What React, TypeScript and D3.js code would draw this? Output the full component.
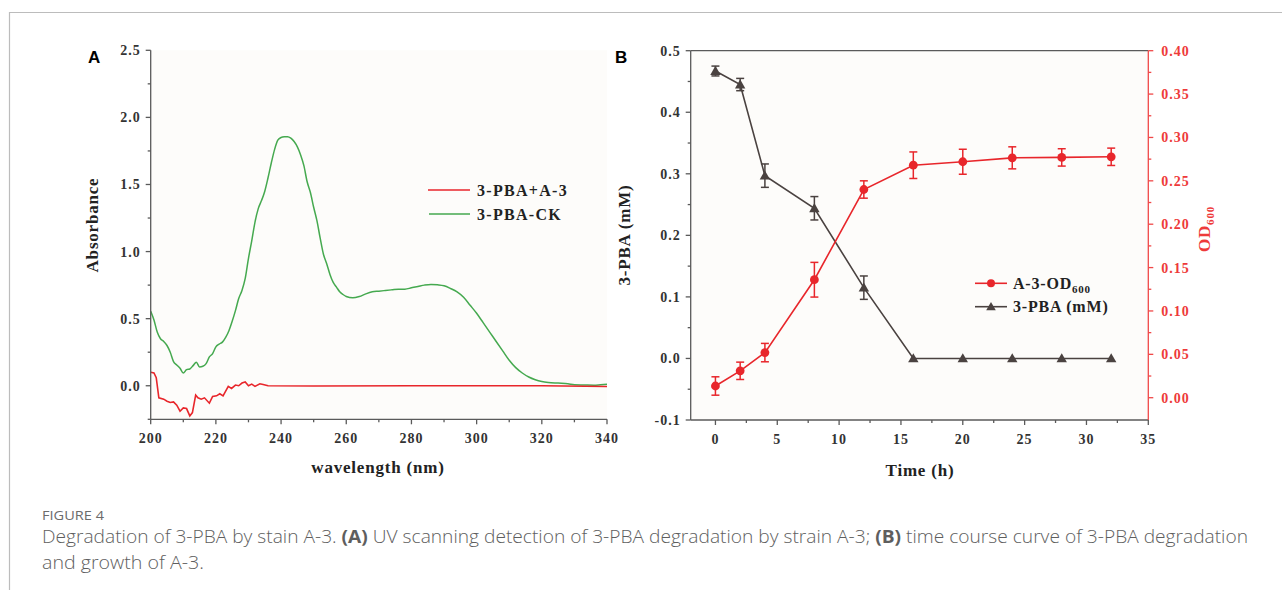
import React from 'react'
import * as d3 from 'd3'

// panel A: UV scan
const wlCK = [200, 201, 202, 203, 204, 205, 206, 207, 208, 209, 210, 211, 212, 213, 214, 215, 216, 217, 218, 219, 220, 221, 222, 223, 224, 225, 226, 227, 228, 229, 230, 231, 232, 233, 234, 235, 236, 237, 238, 239, 240, 241, 242, 243, 244, 245, 246, 247, 248, 249, 250, 251, 252, 253, 254, 255, 256, 257, 258, 259, 260, 262, 264, 266, 268, 270, 272, 274, 276, 278, 280, 282, 284, 286, 288, 290, 292, 294, 296, 298, 300, 302, 304, 306, 308, 310, 312, 314, 316, 318, 320, 322, 325, 328, 330, 333, 336, 338, 340]
const absCK = [0.555, 0.49, 0.4, 0.35, 0.33, 0.3, 0.25, 0.18, 0.155, 0.13, 0.095, 0.12, 0.125, 0.15, 0.175, 0.14, 0.145, 0.165, 0.215, 0.24, 0.29, 0.31, 0.325, 0.36, 0.41, 0.48, 0.56, 0.65, 0.71, 0.8, 0.95, 1.08, 1.22, 1.32, 1.38, 1.45, 1.55, 1.66, 1.76, 1.83, 1.85, 1.855, 1.856, 1.845, 1.82, 1.78, 1.72, 1.64, 1.52, 1.44, 1.33, 1.23, 1.1, 0.98, 0.91, 0.83, 0.77, 0.735, 0.7, 0.68, 0.665, 0.655, 0.665, 0.685, 0.7, 0.705, 0.71, 0.715, 0.72, 0.72, 0.73, 0.74, 0.75, 0.755, 0.752, 0.745, 0.725, 0.7, 0.66, 0.6, 0.54, 0.47, 0.4, 0.33, 0.26, 0.19, 0.135, 0.095, 0.065, 0.045, 0.032, 0.025, 0.02, 0.015, 0.008, 0.006, 0.004, 0.008, 0.012]

const wlA3 = [200, 201, 201.7, 202.5, 204, 205, 206, 207, 208, 209, 210, 211, 212, 212.8, 213.8, 214.5, 215.5, 216.5, 218, 219, 220.2, 221.2, 222.2, 223.8, 224.8, 226, 227, 228, 229, 230, 231, 232, 233.5, 234.5, 236, 250, 280, 300, 320, 340]
const absA3 = [0.1, 0.095, 0.06, -0.09, -0.1, -0.115, -0.125, -0.12, -0.145, -0.19, -0.165, -0.17, -0.225, -0.2, -0.07, -0.09, -0.1, -0.09, -0.13, -0.08, -0.075, -0.06, -0.075, -0.005, -0.02, 0.005, 0, 0.02, 0.028, 0, 0.012, -0.005, 0.015, 0.01, 0, -0.002, 0, 0, 0, -0.005]

const absTicks = [0, 0.5, 1.0, 1.5, 2.0, 2.5]
const wlTicks = [200, 220, 240, 260, 280, 300, 320, 340]

// panel B: time course
const timeH = [0, 2, 4, 8, 12, 16, 20, 24, 28, 32]
const pbaMean = [0.467, 0.445, 0.297, 0.244, 0.115, 0, 0, 0, 0, 0]
const pbaErr = [0.008, 0.01, 0.019, 0.019, 0.019, 0, 0, 0, 0, 0]
const odMean = [0.0135, 0.031, 0.052, 0.136, 0.24, 0.268, 0.272, 0.2765, 0.277, 0.2777]
const odErr = [0.0106, 0.01, 0.0106, 0.02, 0.01, 0.0153, 0.0144, 0.0127, 0.01, 0.01]

const pbaTicks = [-0.1, 0, 0.1, 0.2, 0.3, 0.4, 0.5]
const odTicks = [0, 0.05, 0.1, 0.15, 0.2, 0.25, 0.3, 0.35, 0.4]
const timeTicks = [0, 5, 10, 15, 20, 25, 30, 35]

const RED = '#e8262b'
const GREEN = '#45a94f'
const DARK = '#4a4240'
const AXIS = '#5a5a5a'
const TICKTXT = '#333'
const PLOTBG = '#fdfcfa'
const serif = '"Liberation Serif", "Times New Roman", serif'
const sans = '"Open Sans", sans-serif'

export default function App() {
  // panel A scales
  const ax = d3.scaleLinear().domain([200, 340]).range([150.7, 607])
  const ay = d3.scaleLinear().domain([-0.25, 2.5]).range([419.3, 50.3])

  const lineCK = d3
    .line<number>()
    .x((d, i) => ax(wlCK[i]))
    .y(d => ay(d))
    .curve(d3.curveMonotoneX)
  const lineA3 = d3
    .line<number>()
    .x((d, i) => ax(wlA3[i]))
    .y(d => ay(d))

  // panel B scales
  const bx = d3.scaleLinear().domain([-2, 35]).range([690.7, 1148.3])
  const by = d3.scaleLinear().domain([-0.1, 0.5]).range([420, 50.7])
  const by2 = d3.scaleLinear().domain([-0.0257, 0.4]).range([420, 50.7])

  const linePBA = d3
    .line<number>()
    .x((d, i) => bx(timeH[i]))
    .y(d => by(d))
  const lineOD = d3
    .line<number>()
    .x((d, i) => bx(timeH[i]))
    .y(d => by2(d))

  const tri = (cx: number, cy: number, s = 5.2) =>
    `M${cx},${cy - s}L${cx + s},${cy + s * 0.75}L${cx - s},${cy + s * 0.75}Z`

  const [aL, aR] = ax.range()
  const [aB, aT] = ay.range()
  const [bL, bR] = bx.range()
  const [bB, bT] = by.range()

  return (
    <svg width={1282} height={590} style={{ position: 'absolute', left: 0, top: 0 }}>
      <rect width={1282} height={590} fill="#fff" />
      {/* frame */}
      <line x1={9} x2={1282} y1={12.5} y2={12.5} stroke="#bcbcbc" strokeWidth={1.2} />
      <line x1={9.5} x2={9.5} y1={12} y2={590} stroke="#bcbcbc" strokeWidth={1.2} />

      {/* ---------- panel A ---------- */}
      <rect x={aL} y={aT} width={aR - aL} height={aB - aT} fill={PLOTBG} />
      <text x={88} y={63} fontFamily='"Liberation Sans", Arial, sans-serif' fontWeight="bold" fontSize={17}>A</text>

      <path d={lineCK(absCK) || ''} fill="none" stroke={GREEN} strokeWidth={1.5} />
      <path d={lineA3(absA3) || ''} fill="none" stroke={RED} strokeWidth={1.6} />

      <g stroke={AXIS} strokeWidth={1.3}>
        <line x1={aL} x2={aL} y1={aT} y2={aB} />
        <line x1={aL} x2={aR} y1={aB} y2={aB} />
        {d3.range(-0.25, 2.51, 0.25).map((v, i) => (
          <line key={'ay' + i} x1={aL} x2={aL - (i % 2 === 1 ? 5 : 3)} y1={ay(v)} y2={ay(v)} />
        ))}
        {d3.range(200, 341, 10).map((v, i) => (
          <line key={'ax' + i} x1={ax(v)} x2={ax(v)} y1={aB} y2={aB + (i % 2 === 0 ? 5 : 3)} />
        ))}
      </g>
      <g fontFamily={serif} fontWeight="bold" fontSize={14} fill={TICKTXT} letterSpacing={1}>
        {absTicks.map(v => (
          <text key={v} x={aL - 10} y={ay(v) + 5} textAnchor="end">{v.toFixed(1)}</text>
        ))}
        {wlTicks.map(v => (
          <text key={v} x={ax(v)} y={aB + 24} textAnchor="middle">{v}</text>
        ))}
      </g>
      <text x={378} y={473} textAnchor="middle" fontFamily={serif} fontWeight="bold" fontSize={17} fill="#222" letterSpacing={0.8}>wavelength (nm)</text>
      <text transform={`translate(98,225) rotate(-90)`} textAnchor="middle" fontFamily={serif} fontWeight="bold" fontSize={17} fill="#222" letterSpacing={0.8}>Absorbance</text>

      {/* legend A */}
      <line x1={428} x2={470} y1={190} y2={190} stroke={RED} strokeWidth={1.6} />
      <line x1={429} x2={470} y1={214} y2={214} stroke={GREEN} strokeWidth={1.5} />
      <g fontFamily={serif} fontWeight="bold" fontSize={16} fill="#222" letterSpacing={1.3}>
        <text x={477} y={196}>3-PBA+A-3</text>
        <text x={477} y={220}>3-PBA-CK</text>
      </g>

      {/* ---------- panel B ---------- */}
      <rect x={bL} y={bT} width={bR - bL} height={bB - bT} fill={PLOTBG} />
      <text x={615} y={63} fontFamily='"Liberation Sans", Arial, sans-serif' fontWeight="bold" fontSize={17}>B</text>

      {/* 3-PBA series */}
      <path d={linePBA(pbaMean) || ''} fill="none" stroke={DARK} strokeWidth={1.6} />
      <g stroke={DARK} strokeWidth={1.5}>
        {timeH.map((t, i) =>
          pbaErr[i] > 0 ? (
            <g key={'pe' + i}>
              <line x1={bx(t)} x2={bx(t)} y1={by(pbaMean[i] - pbaErr[i])} y2={by(pbaMean[i] + pbaErr[i])} />
              <line x1={bx(t) - 4} x2={bx(t) + 4} y1={by(pbaMean[i] - pbaErr[i])} y2={by(pbaMean[i] - pbaErr[i])} />
              <line x1={bx(t) - 4} x2={bx(t) + 4} y1={by(pbaMean[i] + pbaErr[i])} y2={by(pbaMean[i] + pbaErr[i])} />
            </g>
          ) : null
        )}
      </g>
      {timeH.map((t, i) => (
        <path key={'pt' + i} d={tri(bx(t), by(pbaMean[i]))} fill={DARK} />
      ))}

      {/* OD600 series */}
      <path d={lineOD(odMean) || ''} fill="none" stroke={RED} strokeWidth={1.6} />
      <g stroke={RED} strokeWidth={1.5}>
        {timeH.map((t, i) => (
          <g key={'oe' + i}>
            <line x1={bx(t)} x2={bx(t)} y1={by2(odMean[i] - odErr[i])} y2={by2(odMean[i] + odErr[i])} />
            <line x1={bx(t) - 4} x2={bx(t) + 4} y1={by2(odMean[i] - odErr[i])} y2={by2(odMean[i] - odErr[i])} />
            <line x1={bx(t) - 4} x2={bx(t) + 4} y1={by2(odMean[i] + odErr[i])} y2={by2(odMean[i] + odErr[i])} />
          </g>
        ))}
      </g>
      {timeH.map((t, i) => (
        <circle key={'oc' + i} cx={bx(t)} cy={by2(odMean[i])} r={4.4} fill={RED} />
      ))}

      {/* axes B */}
      <g stroke={AXIS} strokeWidth={1.3}>
        <line x1={bL} x2={bL} y1={bT} y2={bB} />
        <line x1={bL} x2={bR} y1={bB} y2={bB} />
        <line x1={bL} x2={bR} y1={bT} y2={bT} />
        {d3.range(-0.1, 0.501, 0.05).map((v, i) => (
          <line key={'by' + i} x1={bL} x2={bL - (i % 2 === 0 ? 5 : 3)} y1={by(v)} y2={by(v)} />
        ))}
        {d3.range(0, 35.1, 2.5).map((v, i) => (
          <line key={'bx' + i} x1={bx(v)} x2={bx(v)} y1={bB} y2={bB + (i % 2 === 0 ? 5 : 3)} />
        ))}
      </g>
      <g stroke="#f04848" strokeWidth={1.3}>
        <line x1={bR} x2={bR} y1={bT} y2={bB} />
        {d3.range(0, 0.401, 0.025).map((v, i) => (
          <line key={'b2' + i} x1={bR} x2={bR + (i % 2 === 0 ? 5 : 3)} y1={by2(v)} y2={by2(v)} />
        ))}
      </g>
      <g fontFamily={serif} fontWeight="bold" fontSize={14} fill={TICKTXT} letterSpacing={1}>
        {pbaTicks.map(v => (
          <text key={v} x={bL - 10} y={by(v) + 5} textAnchor="end">{v.toFixed(1)}</text>
        ))}
        {timeTicks.map(v => (
          <text key={v} x={bx(v)} y={bB + 24} textAnchor="middle">{v}</text>
        ))}
      </g>
      <g fontFamily={serif} fontWeight="bold" fontSize={14} fill="#ee3a3a" letterSpacing={1}>
        {odTicks.map(v => (
          <text key={v} x={bR + 13} y={by2(v) + 5}>{v.toFixed(2)}</text>
        ))}
      </g>
      <text x={920} y={476} textAnchor="middle" fontFamily={serif} fontWeight="bold" fontSize={17} fill="#222" letterSpacing={0.8}>Time (h)</text>
      <text transform={`translate(630,235) rotate(-90)`} textAnchor="middle" fontFamily={serif} fontWeight="bold" fontSize={17} fill="#222" letterSpacing={0.8}>3-PBA (mM)</text>
      <text transform={`translate(1210,229) rotate(-90)`} textAnchor="middle" fontFamily={serif} fontWeight="bold" fontSize={17} fill="#ee3a3a" letterSpacing={0.8}>
        OD<tspan fontSize={11} dy={4}>600</tspan>
      </text>

      {/* legend B */}
      <line x1={975} x2={1007} y1={283.3} y2={283.3} stroke={RED} strokeWidth={1.6} />
      <circle cx={991} cy={283.3} r={4} fill={RED} />
      <line x1={975} x2={1007} y1={306.7} y2={306.7} stroke={DARK} strokeWidth={1.6} />
      <path d={tri(991, 306.7, 4.8)} fill={DARK} />
      <g fontFamily={serif} fontWeight="bold" fontSize={16} fill="#222" letterSpacing={0.8}>
        <text x={1013} y={289}>A-3-OD<tspan fontSize={11} dy={4}>600</tspan></text>
        <text x={1013} y={312}>3-PBA (mM)</text>
      </g>

      {/* caption */}
      <text x={42} y={520} fontFamily={sans} fontSize={13} fill="#6b6b6b" textLength={62} lengthAdjust="spacingAndGlyphs">FIGURE 4</text>
      <g fontFamily={sans} fontSize={18} fill="#5e5e5e" fontWeight={300}>
        <text x={42} y={543} textLength={1206} lengthAdjust="spacingAndGlyphs">
          Degradation of 3-PBA by stain A-3. <tspan fontWeight="bold">(A)</tspan> UV scanning detection of 3-PBA degradation by strain A-3; <tspan fontWeight="bold">(B)</tspan> time course curve of 3-PBA degradation
        </text>
        <text x={42} y={569} textLength={162} lengthAdjust="spacingAndGlyphs">and growth of A-3.</text>
      </g>
    </svg>
  )
}
